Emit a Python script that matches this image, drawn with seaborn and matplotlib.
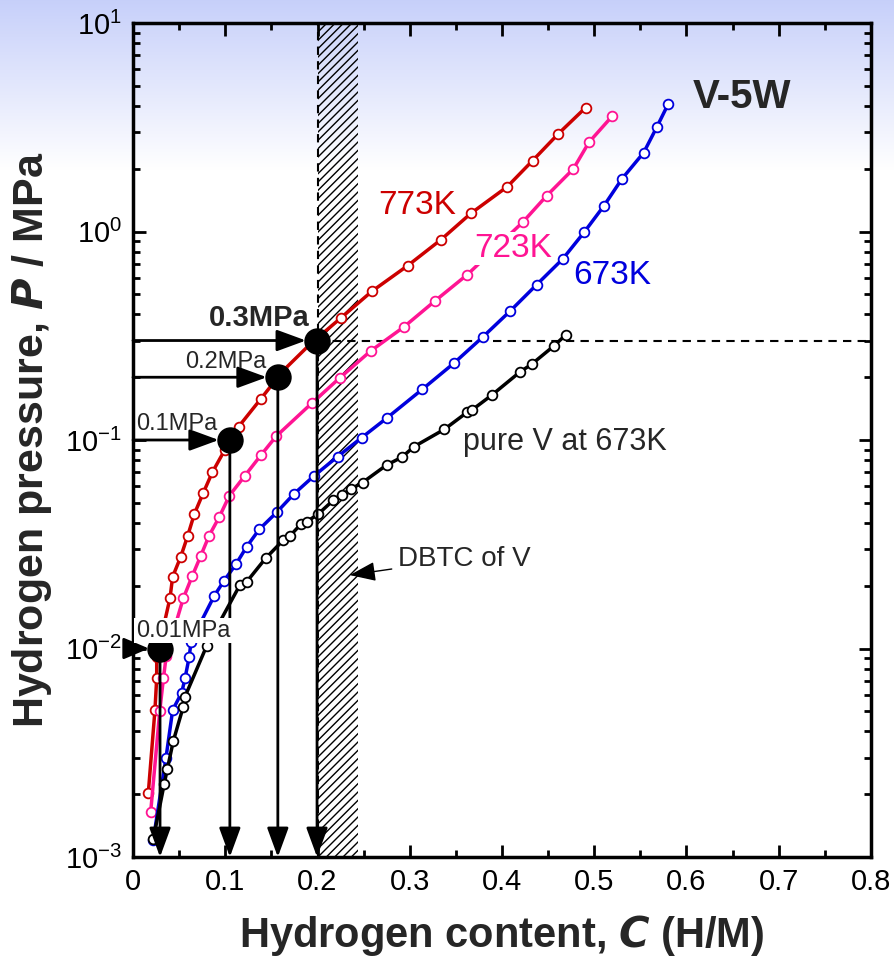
import numpy as np
import pandas as pd
import matplotlib
matplotlib.use("Agg")
import matplotlib.pyplot as plt
import seaborn as sns
from matplotlib.patches import Rectangle

# ---------------- data ----------------
c_773 = [0.0166, 0.0238, 0.0257, 0.0257, 0.0401, 0.0430, 0.0517, 0.0593, 0.0665, 0.0762, 0.0860,
         0.0997, 0.1146, 0.1388, 0.1623, 0.1930, 0.2251, 0.2588, 0.2978, 0.3339, 0.3661, 0.4057,
         0.4333, 0.4610, 0.4907]
p_773 = [0.00203, 0.00507, 0.0072, 0.0091, 0.01746, 0.0221, 0.0275, 0.0347, 0.0442, 0.0558, 0.070,
         0.090, 0.116, 0.158, 0.214, 0.291, 0.384, 0.516, 0.686, 0.914, 1.22, 1.64,
         2.19, 2.94, 3.93]

c_723 = [0.0192, 0.0290, 0.0330, 0.0360, 0.0545, 0.0643, 0.0734, 0.0824, 0.0936, 0.1044, 0.1214,
         0.1388, 0.1550, 0.1937, 0.2244, 0.2575, 0.2938, 0.3277, 0.3624, 0.4224, 0.4485,
         0.4773, 0.4943, 0.5196]
p_723 = [0.00165, 0.0050, 0.0072, 0.0092, 0.0174, 0.0223, 0.0278, 0.0347, 0.0428, 0.054, 0.0675,
         0.0847, 0.104, 0.150, 0.199, 0.267, 0.349, 0.466, 0.621, 1.107, 1.485,
         1.995, 2.68, 3.58]

c_673 = [0.0220, 0.0358, 0.0430, 0.0528, 0.0564, 0.0610, 0.0629, 0.0881, 0.0986, 0.1117, 0.1233,
         0.1369, 0.1558, 0.1742, 0.1959, 0.2217, 0.2479, 0.2757, 0.3136, 0.3476, 0.3792,
         0.4090, 0.4376, 0.4658, 0.4889, 0.5106, 0.5301, 0.5536, 0.5680, 0.5803]
p_673 = [0.00121, 0.0030, 0.00507, 0.00614, 0.0072, 0.00914, 0.0108, 0.0179, 0.0211, 0.0254, 0.0308,
         0.0373, 0.045, 0.055, 0.0671, 0.0832, 0.1026, 0.128, 0.175, 0.233, 0.312,
         0.416, 0.556, 0.738, 0.99, 1.33, 1.79, 2.39, 3.18, 4.10]

c_pureV = [0.0220, 0.0339, 0.0372, 0.0437, 0.0545, 0.0564, 0.0799, 0.1160, 0.1233, 0.1438, 0.1629,
           0.1702, 0.1823, 0.1883, 0.2009, 0.2173, 0.2262, 0.2358, 0.2488, 0.2750, 0.2913,
           0.3046, 0.3375, 0.3624, 0.3672, 0.3888, 0.4195, 0.4322, 0.4564, 0.4690]
p_pureV = [0.00122, 0.00225, 0.00264, 0.0036, 0.00526, 0.00588, 0.0103, 0.0202, 0.0209, 0.0271, 0.0331,
           0.0347, 0.0396, 0.0405, 0.0442, 0.0515, 0.0545, 0.058, 0.0625, 0.0759, 0.0826,
           0.0929, 0.1125, 0.136, 0.139, 0.164, 0.212, 0.231, 0.283, 0.319]

marked_c = [0.0293, 0.105, 0.157, 0.1995]
marked_p = [0.01, 0.1, 0.2, 0.3]
marked_labels = ["0.01MPa", "0.1MPa", "0.2MPa", "0.3MPa"]

dbtc_range = [0.2, 0.244]

x_ticks = [0, 0.1, 0.2, 0.3, 0.4, 0.5, 0.6, 0.7, 0.8]
x_ticklabels = ["0", "0.1", "0.2", "0.3", "0.4", "0.5", "0.6", "0.7", "0.8"]

# ---------------- style ----------------
sns.set_theme(style="ticks")
plt.rcParams['font.family'] = ['Liberation Sans', 'DejaVu Sans']
plt.rcParams['mathtext.fontset'] = 'custom'
plt.rcParams['mathtext.rm'] = 'Liberation Sans'
plt.rcParams['mathtext.it'] = 'Liberation Sans:italic'
plt.rcParams['mathtext.bf'] = 'Liberation Sans:bold'
plt.rcParams['hatch.linewidth'] = 1.0

W, H = 895, 960
fig = plt.figure(figsize=(W / 100, H / 100), dpi=100)

# background gradient
bg = fig.add_axes([0, 0, 1, 1], zorder=-10)
grad = np.ones((H, 1, 3))
top = np.array([0.78, 0.815, 0.98])
for i in range(H):
    t = min(i / 170.0, 1.0)
    grad[i, 0, :] = top * (1 - t) + np.array([1, 1, 1]) * t
bg.imshow(grad, aspect='auto', extent=[0, 1, 0, 1], origin='upper')
bg.set_axis_off()

ax = fig.add_axes([133 / W, 1 - 857 / H, (871 - 133) / W, (857 - 23) / H])
ax.patch.set_alpha(0)
ax.set_yscale('log')
ax.set_xlim(0, 0.8)
ax.set_ylim(1e-3, 10)

series = [
    (c_773, p_773, '#cc0000'),
    (c_723, p_723, '#ff1493'),
    (c_673, p_673, '#0000dd'),
    (c_pureV, p_pureV, 'black'),
]
for cc, pp, col in series:
    df = pd.DataFrame({'C': cc, 'P': pp})
    sns.lineplot(data=df, x='C', y='P', ax=ax, color=col, lw=2.5, sort=False, estimator=None,
                 marker='o', markersize=7, markerfacecolor='white', markeredgecolor=col,
                 markeredgewidth=1.3, zorder=4)

# DBTC hatched region
ax.add_patch(Rectangle((dbtc_range[0], 1e-3), dbtc_range[1] - dbtc_range[0], 10 - 1e-3,
                       facecolor='none', edgecolor='black', hatch='////', lw=0, zorder=2))
ax.axvline(dbtc_range[0], color='black', ls=(0, (4, 3)), lw=1.5, zorder=3)
ax.plot([dbtc_range[0], 0.8], [0.3, 0.3], color='black', ls=(0, (4, 3)), lw=1.5, zorder=3)

# arrows & dots
astyle = '-|>,head_length=1.5,head_width=0.55'
astyle_short = '-|>,head_length=1.3,head_width=0.55'
for cx, py, lab in zip(marked_c, marked_p, marked_labels):
    st = astyle_short if cx < 0.05 else astyle
    ax.annotate('', xy=(cx - 0.012, py), xytext=(0, py),
                arrowprops=dict(arrowstyle=st, color='black', lw=2, shrinkA=0, shrinkB=0),
                zorder=6)
    ax.annotate('', xy=(cx, 1e-3), xytext=(cx, py),
                arrowprops=dict(arrowstyle=astyle, color='black', lw=2, shrinkA=0, shrinkB=0),
                zorder=6)
sns.scatterplot(x=marked_c, y=marked_p, ax=ax, color='black', s=310, edgecolor='black', zorder=7)

ax.text(0.1995 - 0.008, 0.33, marked_labels[3], fontsize=21, fontweight='bold', ha='right',
        va='bottom', zorder=8)
ax.text(0.157 - 0.012, 0.21, marked_labels[2], fontsize=17, ha='right', va='bottom', zorder=8)
ax.text(0.003, 0.106, marked_labels[1], fontsize=17, ha='left', va='bottom', zorder=8)
ax.text(0.003, 0.0108, marked_labels[0], fontsize=17, ha='left', va='bottom', zorder=8,
        bbox=dict(facecolor='white', edgecolor='none', pad=1))

ax.text(0.308, 1.33, '773K', color='#cc0000', fontsize=24, ha='center', va='center', zorder=8)
ax.text(0.412, 0.83, '723K', color='#ff1493', fontsize=24, ha='center', va='center', zorder=8,
        bbox=dict(facecolor='white', edgecolor='none', pad=1))
ax.text(0.519, 0.615, '673K', color='#0000dd', fontsize=24, ha='center', va='center', zorder=8)
ax.text(0.66, 4.4, 'V-5W', fontsize=29, fontweight='bold', ha='center', va='center', zorder=8)
ax.text(0.468, 0.098, 'pure V at 673K', fontsize=22, ha='center', va='center', zorder=8)
ax.annotate('DBTC of V', xy=(0.235, 0.0225), xytext=(0.287, 0.027), fontsize=20, ha='left',
            va='center', zorder=8,
            arrowprops=dict(arrowstyle='-|>,head_length=0.8,head_width=0.3', color='black', lw=1,
                            shrinkA=2, shrinkB=0))

# axes formatting
ax.set_xticks(x_ticks)
ax.set_xticklabels(x_ticklabels)
ax.xaxis.set_minor_locator(matplotlib.ticker.MultipleLocator(0.05))
ax.yaxis.set_major_locator(matplotlib.ticker.LogLocator(base=10, numticks=10))
ax.yaxis.set_minor_locator(matplotlib.ticker.LogLocator(base=10, subs=np.arange(2, 10), numticks=20))
ax.yaxis.set_minor_formatter(matplotlib.ticker.NullFormatter())
ax.yaxis.set_major_formatter(matplotlib.ticker.LogFormatterMathtext())
ax.tick_params(which='both', direction='in', top=True, right=True, width=2, labelsize=21,
               colors='black', pad=8)
ax.tick_params(which='major', length=9)
ax.tick_params(which='minor', length=5)
for s in ax.spines.values():
    s.set_linewidth(2.5)
    s.set_color('black')

ax.set_xlabel(r'Hydrogen content, $\mathbfit{C}$ (H/M)', fontsize=30, fontweight='bold', labelpad=12)
ax.set_ylabel(r'Hydrogen pressure, $\mathbfit{P}$ / MPa', fontsize=31, fontweight='bold', labelpad=8)

fig.savefig('out.png', dpi=100)
